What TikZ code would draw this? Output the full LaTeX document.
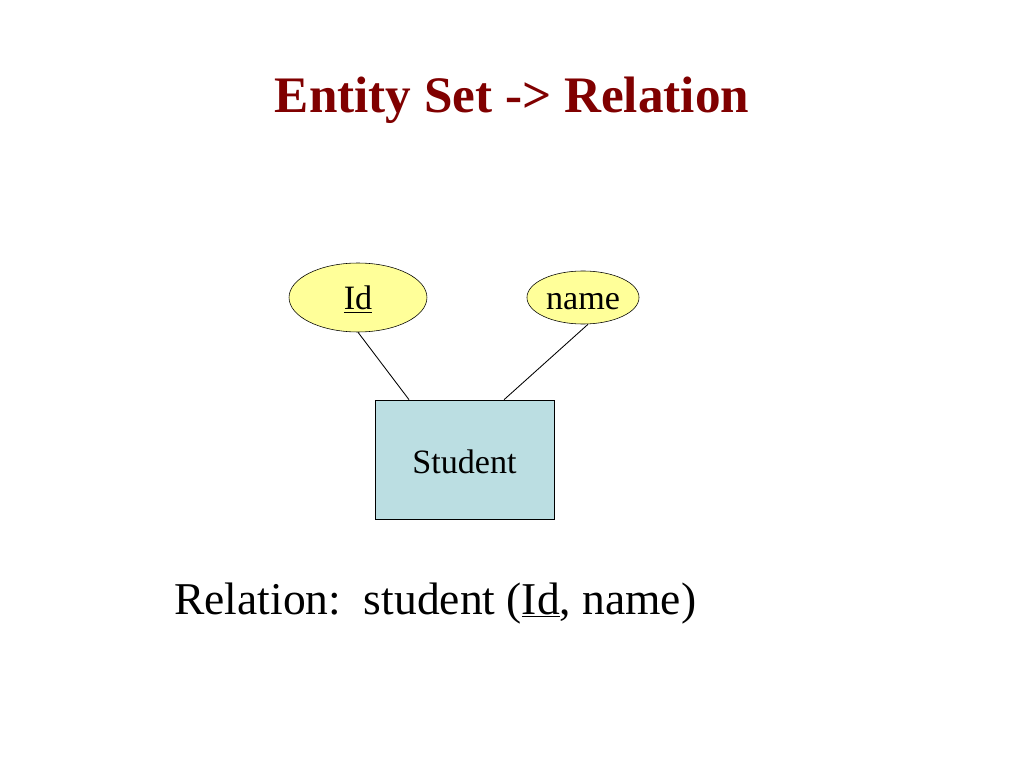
\documentclass[tikz,border=0pt]{standalone}
\usepackage{fontspec}
\setmainfont{Liberation Serif}
\usepackage{tikz}
\usetikzlibrary{positioning, shapes.geometric}
\definecolor{titlered}{RGB}{128,0,0}
\definecolor{attrfill}{RGB}{255,255,153}
\definecolor{entfill}{RGB}{187,222,226}
\tikzstyle{attr} = [draw, ellipse, fill=attrfill, inner sep=0pt, font=\fontsize{24}{28}\selectfont, text height=17pt, text depth=0pt]
\tikzstyle{entity} = [draw, rectangle, fill=entfill, inner sep=0pt, minimum width=125.9pt, minimum height=83.7pt, font=\fontsize{24}{28}\selectfont, text height=19pt, text depth=0pt]
\tikzstyle{link} = [line width=0.6pt]
\begin{document}
\begin{tikzpicture}[x=0.703125pt, y=-0.703125pt]
        \useasboundingbox (0,0) rectangle (1024,768);

        % Titel
        \node[anchor=base, inner sep=0pt, text=titlered, font=\fontsize{36}{43}\selectfont\bfseries] (title) at (512,113) {Entity Set -> Relation};

        % Entity
        \node[entity] (student) at (464.5,459.5) {Student};

        % Attributes
        \node[attr, minimum width=97pt, minimum height=48.5pt] (id) at (358,297.5) {\underline{Id}};
        \node[attr, minimum width=78.8pt, minimum height=37.3pt] (name) at (583,297.5) {name};

        % Links
        \draw[link] (id.south) -- ([xshift=-39pt]student.north);
        \draw[link] ([xshift=3.5pt]name.south) -- ([xshift=27.8pt]student.north);

        % Relation
        \node[anchor=base west, inner sep=0pt, font=\fontsize{32}{38}\selectfont] (rel) at (174,614) {Relation:\ \ student (\underline{Id}, name)};

    \end{tikzpicture}
\end{document}
